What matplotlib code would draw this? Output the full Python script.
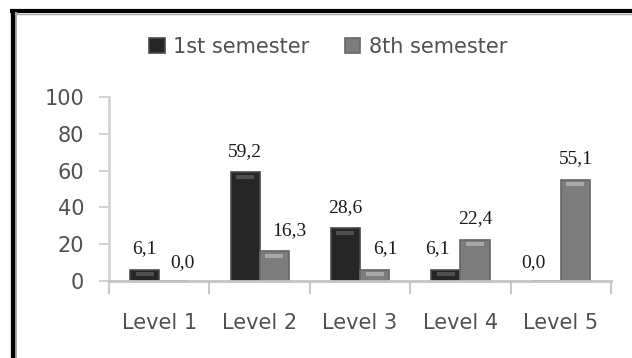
import matplotlib.pyplot as plt
from matplotlib.lines import Line2D
import numpy as np

# Data
levels = ['Level 1', 'Level 2', 'Level 3', 'Level 4', 'Level 5']
first_sem = [6.1, 59.2, 28.6, 6.1, 0.0]
eighth_sem = [0.0, 16.3, 6.1, 22.4, 55.1]
yticks = [0, 20, 40, 60, 80, 100]

# horizontal nudges of the value labels (points), as placed in the original
nudge_first = [0, 0, 0, -6, -9]
nudge_eighth = [6, 11, 8, 0, 0]

dark = '#262626'
light = '#7c7c7c'
grey_txt = '#505050'

fig = plt.figure(figsize=(6.32, 3.58), dpi=100)
ax = fig.add_axes([0.1725, 0.2151, 0.7943, 0.5140])

x = np.arange(len(levels))
w = 0.29
b1 = ax.bar(x - w / 2, first_sem, w, color=dark, edgecolor='#4a4a4a', linewidth=1.2,
            label='1st semester', zorder=2)
b2 = ax.bar(x + w / 2, eighth_sem, w, color=light, edgecolor='#666666', linewidth=1.2,
            label='8th semester', zorder=2)

# bevel highlight near the top of each bar
for bars, hl in ((b1, '#505050'), (b2, '#a8a8a8')):
    for r in bars:
        h = r.get_height()
        if h > 0:
            ax.bar(r.get_x() + r.get_width() / 2, min(2.2, h * 0.35), r.get_width() * 0.62,
                   bottom=h - min(3.6, h * 0.6), color=hl, linewidth=0, zorder=3)

for bars, vals, nud in ((b1, first_sem, nudge_first), (b2, eighth_sem, nudge_eighth)):
    for r, v, dx in zip(bars, vals, nud):
        dy = 15 if v > 0 else 13
        ax.annotate(f'{v:.1f}'.replace('.', ','), (r.get_x() + r.get_width() / 2, v),
                    textcoords='offset points', xytext=(dx, dy), ha='center', va='center',
                    fontsize=14, family='Liberation Serif', color='#1a1a1a')

ax.set_xlim(-0.5, len(levels) - 0.5)
ax.set_ylim(0, 100)
ax.set_yticks(yticks)
ax.set_xticks(np.arange(len(levels) + 1) - 0.5)
ax.set_xticklabels([])
ax.set_xticks(x, minor=True)
ax.set_xticklabels(levels, minor=True)

ax.tick_params(axis='y', direction='out', length=7, width=1.2, color='#c8c8c8',
               pad=11, labelsize=15, labelcolor=grey_txt)
ax.tick_params(axis='x', which='major', direction='out', length=9, width=1.5, color='#c8c8c8')
ax.tick_params(axis='x', which='minor', length=0, pad=23, labelsize=15, labelcolor=grey_txt)

for s in ('top', 'right'):
    ax.spines[s].set_visible(False)
ax.spines['left'].set_color('#d4d4d4')
ax.spines['left'].set_linewidth(2)
ax.spines['bottom'].set_color('#c4c4c4')
ax.spines['bottom'].set_linewidth(2)

leg = fig.legend(loc='center', bbox_to_anchor=(0.519, 0.869), ncol=2, frameon=False,
                 fontsize=15, handlelength=0.75, handleheight=0.75, handletextpad=0.4,
                 columnspacing=1.7)
for t in leg.get_texts():
    t.set_color(grey_txt)

# outer frame (left and top edges)
fig.add_artist(Line2D([12.5 / 632, 12.5 / 632], [0, 1 - 9 / 358], transform=fig.transFigure,
                      color='black', linewidth=3.8, solid_capstyle='butt'))
fig.add_artist(Line2D([10 / 632, 1], [1 - 11 / 358, 1 - 11 / 358], transform=fig.transFigure,
                      color='black', linewidth=3, solid_capstyle='butt'))
fig.add_artist(Line2D([16 / 632, 16 / 632], [0, 1 - 13 / 358], transform=fig.transFigure,
                      color='#a8a8a8', linewidth=1.3))
fig.add_artist(Line2D([15 / 632, 1], [1 - 13.5 / 358, 1 - 13.5 / 358], transform=fig.transFigure,
                      color='#a8a8a8', linewidth=1))

fig.savefig('out.png', dpi=100)
